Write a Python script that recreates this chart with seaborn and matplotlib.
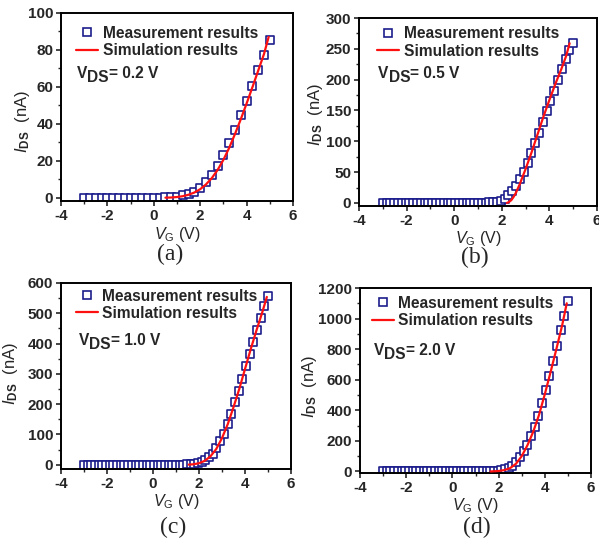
import matplotlib
matplotlib.use("Agg")
import matplotlib.pyplot as plt
import seaborn as sns
import pandas as pd
from matplotlib.lines import Line2D
from matplotlib.ticker import MultipleLocator

# ---------------- data ----------------
# (a) VDS = 0.2 V
xa_meas = [-3.00, -2.75, -2.50, -2.25, -2.00, -1.75, -1.50, -1.25, -1.00, -0.75,
           -0.50, -0.25, 0.00, 0.25, 0.50, 0.75, 1.00, 1.25, 1.50, 1.75,
           2.00, 2.25, 2.50, 2.75, 3.00, 3.25, 3.50, 3.75, 4.00, 4.25,
           4.50, 4.75, 5.00]
ya_meas = [0.0, 0.0, 0.0, 0.0, 0.0, 0.0, 0.0, 0.0, 0.0, 0.0,
           0.0, 0.0, 0.0, 0.05, 0.1, 0.3, 0.6, 1.2, 2.0, 3.3,
           5.4, 8.3, 12.3, 17.4, 23.2, 29.5, 36.7, 44.5, 52.5, 60.6,
           68.9, 77.4, 85.2]
xa_sim = [0.50, 0.75, 1.00, 1.25, 1.50, 1.75, 2.00, 2.25, 2.50, 2.75,
          3.00, 3.25, 3.50, 3.75, 4.00, 4.25, 4.50, 4.75, 4.95]
ya_sim = [0.0, 0.1, 0.35, 0.8, 1.6, 2.8, 4.6, 7.2, 10.6, 15.0,
          20.5, 27.0, 34.5, 42.5, 51.0, 59.8, 68.8, 77.8, 87.0]

# common gate-voltage grid of measurement for (b), (c), (d)
x_meas = [-3.00, -2.84, -2.68, -2.52, -2.36, -2.20, -2.04, -1.88, -1.72, -1.56,
          -1.40, -1.24, -1.08, -0.92, -0.76, -0.60, -0.44, -0.28, -0.12, 0.04,
          0.20, 0.36, 0.52, 0.68, 0.84, 1.00, 1.16, 1.32, 1.48, 1.64,
          1.80, 1.96, 2.12, 2.28, 2.44, 2.60, 2.76, 2.92, 3.08, 3.24,
          3.40, 3.56, 3.72, 3.88, 4.04, 4.20, 4.36, 4.52, 4.68, 4.84, 5.00]

# (b) VDS = 0.5 V
yb_meas = [0.0, 0.0, 0.0, 0.0, 0.0, 0.0, 0.0, 0.0, 0.0, 0.0,
           0.0, 0.0, 0.0, 0.0, 0.0, 0.0, 0.0, 0.0, 0.0, 0.0,
           0.0, 0.0, 0.0, 0.0, 0.0, 0.1, 0.2, 0.4, 0.7, 1.2,
           2.0, 3.5, 6.5, 12.5, 19.5, 27.6, 38.9, 50.8, 65.4, 80.6,
           97.0, 114.0, 132.0, 149.0, 166.0, 182.0, 199.0, 217.0, 233.0, 248.0, 259.0]
xb_sim = [2.22, 2.30, 2.40, 2.50, 2.60, 2.75, 3.00, 3.25, 3.50, 3.75,
          4.00, 4.25, 4.50, 4.70, 4.85]
yb_sim = [0.0, 1.5, 4.5, 10.0, 17.0, 30.0, 55.0, 82.0, 111.0, 140.0,
          167.0, 193.0, 217.0, 238.0, 259.0]

# (c) VDS = 1.0 V
yc_meas = [0.0, 0.0, 0.0, 0.0, 0.0, 0.0, 0.0, 0.0, 0.0, 0.0,
           0.0, 0.0, 0.0, 0.0, 0.0, 0.0, 0.0, 0.0, 0.0, 0.0,
           0.0, 0.0, 0.0, 0.0, 0.0, 0.0, 0.3, 0.6, 1.2, 2.0,
           3.5, 6.0, 10.0, 15.5, 24.0, 37.0, 55.0, 77.0, 102.0, 135.0,
           168.0, 207.0, 244.0, 284.0, 325.0, 367.0, 406.0, 446.0, 486.0, 523.0, 557.0]
xc_sim = [1.55, 1.75, 2.00, 2.25, 2.50, 2.75, 3.00, 3.25, 3.50, 3.75,
          4.00, 4.25, 4.50, 4.75, 4.95]
yc_sim = [0.5, 1.5, 5.0, 13.0, 28.0, 52.0, 88.0, 134.0, 190.0, 250.0,
          316.0, 382.0, 444.0, 503.0, 554.0]

# (d) VDS = 2.0 V
yd_meas = [0.0, 0.0, 0.0, 0.0, 0.0, 0.0, 0.0, 0.0, 0.0, 0.0,
           0.0, 0.0, 0.0, 0.0, 0.0, 0.0, 0.0, 0.0, 0.0, 0.0,
           0.0, 0.0, 0.0, 0.0, 0.0, 0.0, 0.0, 0.0, 0.5, 1.0,
           2.0, 4.0, 8.0, 14.0, 22.0, 39.0, 63.0, 92.0, 131.0, 175.0,
           229.0, 290.0, 365.0, 448.0, 535.0, 626.0, 724.0, 823.0, 923.0, 1019.0, 1117.0]
xd_sim = [1.65, 2.00, 2.25, 2.50, 2.75, 3.00, 3.25, 3.50, 3.75, 4.00,
          4.25, 4.50, 4.75, 4.95]
yd_sim = [0.0, 3.0, 9.0, 22.0, 50.0, 100.0, 172.0, 260.0, 370.0, 505.0,
          650.0, 800.0, 955.0, 1100.0]

vds_labels = ["0.2 V", "0.5 V", "1.0 V", "2.0 V"]
panel_labels = ["(a)", "(b)", "(c)", "(d)"]
legend_labels = ["Measurement results", "Simulation results"]

# ---------------- style ----------------
sns.set_style("ticks")
plt.rcParams["font.family"] = ["Liberation Sans", "DejaVu Sans"]
plt.rcParams["mathtext.fontset"] = "custom"
plt.rcParams["mathtext.rm"] = "Liberation Sans"
plt.rcParams["mathtext.it"] = "Liberation Sans:italic"
plt.rcParams["mathtext.bf"] = "Liberation Sans:bold"
plt.rcParams["axes.unicode_minus"] = False

MEAS_COLOR = "#1c1c8c"
SIM_COLOR = "#ff1010"
FS = 11.2      # legend / annotation
TFS = 11.0     # tick labels
LFS = 11.5     # axis labels

fig = plt.figure(figsize=(5.99, 5.41), dpi=100)

W, H = 599.0, 541.0
def ax_rect(l, r, t, b):
    return [l / W, 1 - b / H, (r - l) / W, (b - t) / H]

panels = [
    dict(rect=ax_rect(61, 293, 13, 201), xm=xa_meas, ym=ya_meas, xs=xa_sim, ys=ya_sim,
         ylim=(-1.8, 100), ystep=20, leg=(0.065, 0.846), vds=(0.069, 0.653),
         ylab=(-0.126, 0.42), xlab=-0.125, plab=(170, 254)),
    dict(rect=ax_rect(359, 597, 18, 206), xm=x_meas, ym=yb_meas, xs=xb_sim, ys=yb_sim,
         ylim=(-5, 300), ystep=50, leg=(0.077, 0.870), vds=(0.081, 0.679),
         ylab=(-0.143, 0.489), xlab=-0.125, plab=(475, 257)),
    dict(rect=ax_rect(61, 291, 283, 469), xm=x_meas, ym=yc_meas, xs=xc_sim, ys=yc_sim,
         ylim=(-14, 600), ystep=100, leg=(0.065, 0.883), vds=(0.078, 0.667),
         ylab=(-0.178, 0.514), xlab=-0.124, plab=(173, 527)),
    dict(rect=ax_rect(360, 591, 288, 473), xm=x_meas, ym=yd_meas, xs=xd_sim, ys=yd_sim,
         ylim=(-10, 1200), ystep=200, leg=(0.051, 0.870), vds=(0.061, 0.638),
         ylab=(-0.177, 0.466), xlab=-0.125, plab=(477, 527)),
]

for i, p in enumerate(panels):
    ax = fig.add_axes(p["rect"])
    dm = pd.DataFrame({"VG": p["xm"], "IDS": p["ym"]})
    ds = pd.DataFrame({"VG": p["xs"], "IDS": p["ys"]})
    sns.lineplot(data=ds, x="VG", y="IDS", ax=ax, color=SIM_COLOR, lw=1.6,
                 zorder=3, sort=False)
    sns.scatterplot(data=dm, x="VG", y="IDS", ax=ax, marker="s", s=30,
                    facecolor="white", edgecolor=MEAS_COLOR, linewidth=1.2,
                    zorder=2)
    ax.set_xlim(-4, 6)
    ax.set_ylim(*p["ylim"])
    ax.xaxis.set_major_locator(MultipleLocator(2))
    ax.xaxis.set_minor_locator(MultipleLocator(1))
    ax.yaxis.set_major_locator(MultipleLocator(p["ystep"]))
    ax.yaxis.set_minor_locator(MultipleLocator(p["ystep"] / 2))
    ax.tick_params(which="major", direction="out", length=3.5, width=1.2,
                   labelsize=TFS, pad=2)
    ax.tick_params(which="minor", direction="out", length=2, width=1.0)
    for sp in ax.spines.values():
        sp.set_visible(True)
        sp.set_linewidth(1.4)
        sp.set_color("black")
    for lab in ax.get_xticklabels() + ax.get_yticklabels():
        lab.set_fontweight("bold")

    ax.set_xlabel(r"$\mathit{V}_{\mathrm{G}}$ (V)", fontsize=LFS)
    ax.set_ylabel(r"$\mathit{I}_{\mathbf{DS}}$  (nA)", fontsize=LFS + 0.5)
    ax.xaxis.set_label_coords(0.5, p["xlab"])
    ax.yaxis.set_label_coords(p["ylab"][0], p["ylab"][1])

    handles = [
        Line2D([], [], marker="s", ls="none", markersize=5.5, markerfacecolor="white",
               markeredgecolor=MEAS_COLOR, markeredgewidth=1.2),
        Line2D([], [], color=SIM_COLOR, lw=1.6),
    ]
    ax.legend(handles, legend_labels, loc="center left", bbox_to_anchor=p["leg"],
              frameon=False, borderpad=0, borderaxespad=0, handlelength=1.4,
              handletextpad=0.3, labelspacing=0.15,
              prop={"size": FS, "weight": "bold"})

    t1 = ax.text(p["vds"][0], p["vds"][1], "V", transform=ax.transAxes,
                 fontsize=FS, fontweight="bold", va="baseline", ha="left")
    t2 = ax.annotate("DS", xy=(1, 0), xycoords=t1, xytext=(0, -2.8),
                     textcoords="offset points", fontsize=FS, fontweight="bold",
                     va="bottom", ha="left")
    ax.annotate("= " + vds_labels[i], xy=(1, 0), xycoords=t2, xytext=(0, 2.8),
                textcoords="offset points", fontsize=FS, fontweight="bold",
                va="bottom", ha="left")

    fig.text(p["plab"][0] / W, 1 - p["plab"][1] / H, panel_labels[i],
             fontsize=17, family=["Liberation Serif", "DejaVu Serif"],
             ha="center", va="center")

fig.savefig("out.png", dpi=100)
